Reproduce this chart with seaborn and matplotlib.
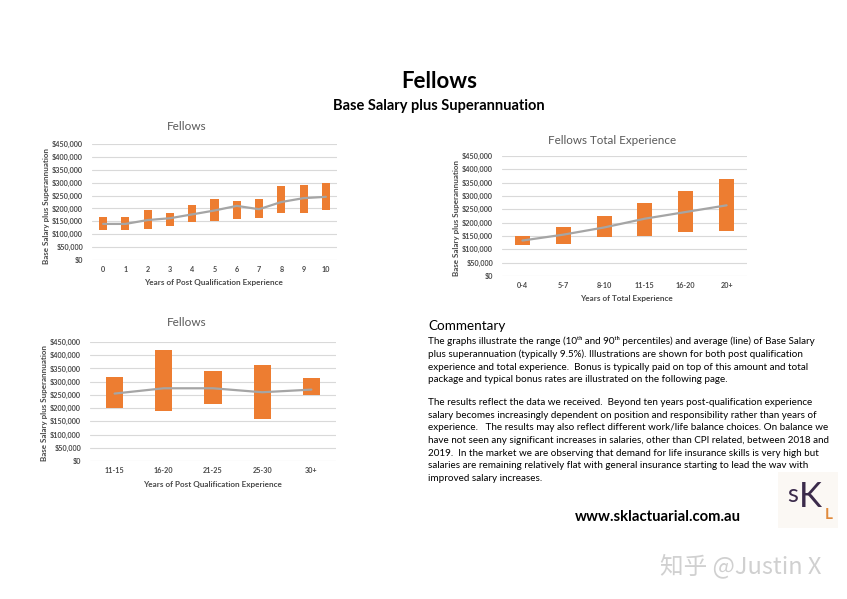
import numpy as np
import pandas as pd
import matplotlib
matplotlib.use("Agg")
import matplotlib.pyplot as plt
from matplotlib.ticker import FuncFormatter
import seaborn as sns

# ---------------- data ----------------
pq_years = ["0", "1", "2", "3", "4", "5", "6", "7", "8", "9", "10"]
pq_low   = [115000, 115000, 120000, 133000, 148000, 150000, 160000, 162000, 182000, 182000, 195000]
pq_high  = [165000, 167000, 193000, 182000, 212000, 235000, 230000, 238000, 287000, 292000, 297000]
pq_avg   = [140000, 140000, 155000, 162000, 177000, 192000, 210000, 197000, 225000, 240000, 245000]

tot_years = ["0-4", "5-7", "8-10", "11-15", "16-20", "20+"]
tot_low   = [115000, 120000, 145000, 150000, 165000, 170000]
tot_high  = [150000, 185000, 225000, 273000, 320000, 363000]
tot_avg   = [133000, 155000, 182000, 215000, 240000, 265000]

sr_years = ["11-15", "16-20", "21-25", "25-30", "30+"]
sr_low   = [202000, 190000, 215000, 158000, 250000]
sr_high  = [316000, 420000, 340000, 362000, 315000]
sr_avg   = [255000, 275000, 275000, 260000, 270000]

yticks = [0, 50000, 100000, 150000, 200000, 250000, 300000, 350000, 400000, 450000]

# ---------------- style ----------------
sns.set_theme(style="white")
plt.rcParams["font.family"] = ["Lato", "DejaVu Sans"]

W, H = 847, 599
fig = plt.figure(figsize=(W / 100, H / 100), dpi=100)
fig.patch.set_facecolor("white")

ORANGE = "#ED7D31"
GREY_LINE = "#A5A5A5"
TXT = "#595959"
GRID = "#D9D9D9"


def px(x, y):
    return x / W, 1 - y / H


def add_chart(box, cats, low, high, avg, title, xlabel, title_xy, xlabel_xy, ylabel_xy, bar_w, tsize):
    l, t, r, b = box
    ax = fig.add_axes([l / W, 1 - b / H, (r - l) / W, (b - t) / H])
    df = pd.DataFrame({"cat": cats, "low": low, "high": high, "avg": avg})
    df["range"] = df["high"] - df["low"]
    sns.barplot(data=df, x="cat", y="range", bottom=df["low"].values, color=ORANGE,
                width=bar_w, saturation=1, ax=ax, linewidth=0, zorder=3)
    sns.pointplot(data=df, x="cat", y="avg", color=GREY_LINE, marker="", linewidth=1.6,
                  errorbar=None, ax=ax, zorder=4)
    ax.set_ylim(0, 450000)
    ax.set_xlim(-0.5, len(cats) - 0.5)
    ax.set_yticks(yticks)
    ax.yaxis.set_major_formatter(FuncFormatter(lambda v, p: "${:,.0f}".format(v)))
    ax.grid(axis="y", color=GRID, linewidth=0.8, zorder=0)
    ax.grid(axis="x", visible=False)
    for s in ax.spines.values():
        s.set_visible(False)
    ax.tick_params(axis="both", length=0, labelsize=5.2, labelcolor="#4a4a4a")
    ax.tick_params(axis="y", pad=6.5)
    ax.tick_params(axis="x", pad=4.5)
    for lab in ax.get_xticklabels() + ax.get_yticklabels():
        lab.set_fontweight("bold")
    ax.set_xlabel("")
    ax.set_ylabel("")
    fig.text(*px(*title_xy), title, ha="center", va="center", fontsize=tsize, color=TXT)
    fig.text(*px(*xlabel_xy), xlabel, ha="center", va="center", fontsize=5.9,
             color="#4a4a4a", fontweight="bold")
    fig.text(*px(*ylabel_xy), "Base Salary plus Superannuation", ha="center", va="center",
             fontsize=5.8, color="#4a4a4a", fontweight="bold", rotation=90)
    return ax


add_chart((92, 144, 337, 260), pq_years, pq_low, pq_high, pq_avg, "Fellows",
          "Years of Post Qualification Experience", (187, 126), (213, 282), (47, 206), 0.36, 8.5)
add_chart((502, 156, 747, 276), tot_years, tot_low, tot_high, tot_avg, "Fellows Total Experience",
          "Years of Total Experience", (612, 140), (626, 298), (457, 218), 0.37, 8.4)
add_chart((90, 342, 336, 461), sr_years, sr_low, sr_high, sr_avg, "Fellows",
          "Years of Post Qualification Experience", (187, 323), (212, 484), (45, 403), 0.35, 8.5)

# ---------------- headings ----------------
fig.text(*px(439, 82), "Fellows", ha="center", va="center", fontsize=16, fontweight="bold", color="black")
fig.text(*px(439, 106), "Base Salary plus Superannuation", ha="center", va="center",
         fontsize=10.5, fontweight="bold", color="black")

# ---------------- commentary ----------------
fig.text(*px(428, 326), "Commentary", ha="left", va="center", fontsize=9.7, color="black")
para1 = ("The graphs illustrate the range (10\u1d57\u02b0 and 90\u1d57\u02b0 percentiles) and average (line) of Base Salary\n"
         "plus superannuation (typically 9.5%). Illustrations are shown for both post qualification\n"
         "experience and total experience.  Bonus is typically paid on top of this amount and total\n"
         "package and typical bonus rates are illustrated on the following page.")
para2 = ("The results reflect the data we received.  Beyond ten years post-qualification experience\n"
         "salary becomes increasingly dependent on position and responsibility rather than years of\n"
         "experience.   The results may also reflect different work/life balance choices. On balance we\n"
         "have not seen any significant increases in salaries, other than CPI related, between 2018 and\n"
         "2019.  In the market we are observing that demand for life insurance skills is very high but\n"
         "salaries are remaining relatively flat with general insurance starting to lead the wav with\n"
         "improved salary increases.")
fig.text(*px(428, 336), para1, ha="left", va="top", fontsize=7.1, color="black", linespacing=1.48)
fig.text(*px(428, 398), para2, ha="left", va="top", fontsize=7.1, color="black", linespacing=1.52)

fig.text(*px(658, 517), "www.sklactuarial.com.au", ha="center", va="center", fontsize=10.7,
         fontweight="bold", color="black")

# ---------------- logo ----------------
fig.patches.append(plt.Rectangle(px(778, 528), 60 / W, 56 / H, transform=fig.transFigure,
                                 facecolor="#FBF8F4", edgecolor="none"))
fig.text(*px(793, 495), "s", ha="center", va="center", fontsize=18, color="#3B2B4B")
fig.text(*px(810, 497), "K", ha="center", va="center", fontsize=25, color="#3B2B4B")
fig.text(*px(829, 515), "L", ha="center", va="center", fontsize=11, fontweight="bold", color="#E08A3C")

# ---------------- watermark ----------------
fig.text(*px(741, 566), "知乎 @Justin X", ha="center", va="center", fontsize=17,
         color="#D0D0D0", family=["Noto Sans CJK SC", "DejaVu Sans"])

fig.savefig("out.png", dpi=100, facecolor="white")
